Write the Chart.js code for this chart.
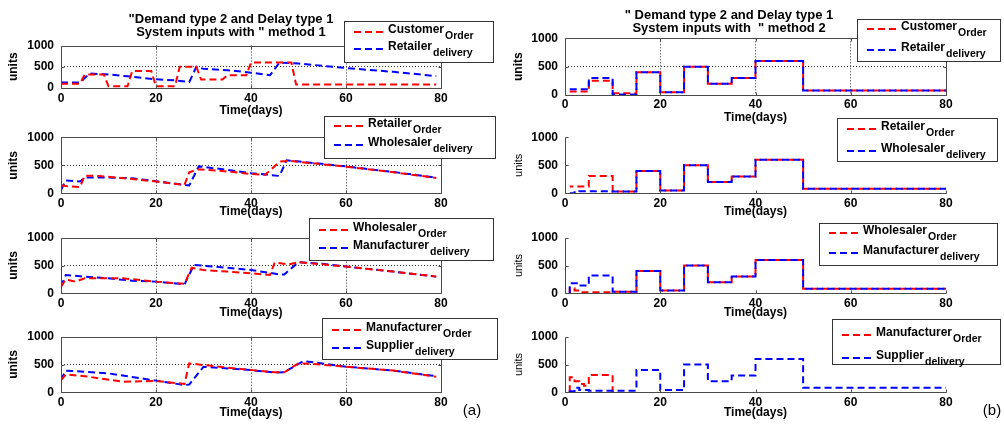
<!DOCTYPE html>
<html>
<head>
<meta charset="utf-8">
<script src="https://cdn.jsdelivr.net/npm/chart.js@4.4.1/dist/chart.umd.min.js"></script>
<style>
html, body { margin: 0; padding: 0; background: #fff; }
#wrap { position: relative; width: 1004px; height: 426px; overflow: hidden; }
#wrap canvas { position: absolute; left: 0; top: 0; }
</style>
</head>
<body>
<div id="wrap"></div>
<script>
// ---- data: [day, units] ----
// method 1 (left column)
const customerOrder1 = [[0,100],[4,100],[5,320],[9,320],[10,40],[14,40],[15,400],[19,400],[20,40],[24,40],[25,500],[28.5,500],[29.5,200],[34,200],[35,300],[39,300],[40,600],[48.5,600],[49.5,80],[79,80]];
const retailerDelivery1 = [[0,130],[4,130],[6,340],[10,320],[14,275],[20,205],[24,180],[27,140],[28.5,500],[30,450],[35,420],[40,360],[44,300],[46,600],[50,575],[60,470],[70,380],[79,280]];
const retailerOrder1 = [[0,140],[1,130],[4,110],[5,315],[8,310],[15,255],[20,210],[26,150],[27,375],[29,430],[35,390],[40,345],[43,330],[46,565],[48,580],[60,475],[70,375],[79,275]];
const wholesalerDelivery1 = [[0,60],[1,230],[4,210],[5,280],[10,280],[15,270],[20,215],[27,140],[29,480],[35,420],[40,360],[46,310],[47.5,590],[60,480],[70,380],[79,280]];
const wholesalerOrder1 = [[0,120],[1,250],[3,210],[5,270],[13,270],[20,210],[26,170],[27.5,460],[30,420],[35,390],[40,360],[44,330],[45,555],[48,520],[50,560],[60,480],[70,390],[79,300]];
const manufacturerDelivery1 = [[0,120],[1,330],[5,300],[10,270],[15,225],[20,210],[26,160],[28,510],[35,460],[40,420],[46,340],[47,340],[50,560],[55,530],[60,480],[70,390],[79,300]];
const manufacturerOrder1 = [[0,220],[1,320],[5,290],[13,190],[20,205],[26,150],[27,520],[30,490],[40,400],[45,360],[47,360],[50,520],[53,510],[60,460],[70,390],[79,280]];
const supplierDelivery1 = [[0,220],[1,390],[10,340],[20,210],[26,130],[27,140],[30,460],[40,400],[45,355],[47,360],[51,560],[55,520],[60,460],[70,390],[79,290]];

// method 2 (right column): [step start day, units], held until the next point
const customerOrder2 = [[1,60],[5,250],[10,30],[15,400],[20,50],[25,500],[30,200],[35,300],[40,600],[50,80],[80,80]];
const retailerDelivery2 = [[1,100],[5,300],[10,10],[15,400],[20,50],[25,500],[30,200],[35,300],[40,600],[50,80],[80,80]];
const retailerOrder2 = [[1,120],[5,310],[10,30],[15,400],[20,50],[25,500],[30,200],[35,300],[40,600],[50,80],[80,80]];
const wholesalerDelivery2 = [[1,0],[2,20],[3,35],[10,30],[15,400],[20,50],[25,500],[30,200],[35,300],[40,600],[50,80],[80,80]];
const wholesalerOrder2 = [[1,0],[1,90],[2,50],[3,20],[10,30],[15,400],[20,50],[25,500],[30,200],[35,300],[40,600],[50,80],[80,80]];
const manufacturerDelivery2 = [[1,0],[1,180],[3,140],[5,320],[10,30],[15,400],[20,50],[25,500],[30,200],[35,300],[40,600],[50,80],[80,80]];
const manufacturerOrder2 = [[1,0],[1,270],[2,200],[3,150],[4,120],[5,310],[10,0]];
const supplierDelivery2 = [[1,0],[1,20],[2,80],[3,40],[5,30],[15,400],[20,40],[25,500],[30,200],[35,300],[40,600],[50,80],[80,80]];

const xTicks = [0, 20, 40, 60, 80];
const yTicks = [0, 500, 1000];
const titleLeft = ['"Demand type 2 and Delay type 1', 'System inputs with " method 1'];
const titleRight = ['" Demand type 2 and Delay type 1', 'System inputs with  " method 2'];

const W = 1004, H = 426;
const FONT = '"Liberation Sans", Arial, Helvetica, sans-serif';
const RED = '#ff0000', BLUE = '#0000ff';
const DASH = [7, 4];

const panels = [
  { series: [customerOrder1, retailerDelivery1], names: ['Customer', 'Retailer'], subs: ['Order', 'delivery'],
    step: false, boxed: true, area: {l: 61, r: 441, t: 45.5, b: 88}, xt: 111, yt: 14, unitsBold: true, tp: 3,
    legend: {x: 344, y: 21, w: 149, h: 41, rows: [11, 28]},
    notes: [{lines: titleLeft, x: 231, y: 19}] },
  { series: [retailerOrder1, wholesalerDelivery1], names: ['Retailer', 'Wholesaler'], subs: ['Order', 'delivery'],
    step: false, boxed: true, area: {l: 61, r: 441, t: 137.3, b: 193.3}, xt: 212, yt: 14, unitsBold: true, tp: 3,
    legend: {x: 324, y: 116, w: 171, h: 42, rows: [10, 29]} },
  { series: [wholesalerOrder1, manufacturerDelivery1], names: ['Wholesaler', 'Manufacturer'], subs: ['Order', 'delivery'],
    step: false, boxed: true, area: {l: 61, r: 441, t: 237.7, b: 293.3}, xt: 313, yt: 14, unitsBold: true, tp: 3,
    legend: {x: 309, y: 218, w: 184, h: 42, rows: [12, 30]} },
  { series: [manufacturerOrder1, supplierDelivery1], names: ['Manufacturer', 'Supplier'], subs: ['Order', 'delivery'],
    step: false, boxed: true, area: {l: 61, r: 441, t: 336.7, b: 392.3}, xt: 413, yt: 14, unitsBold: true, tp: 3,
    legend: {x: 322, y: 318, w: 175, h: 41, rows: [12, 30]},
    tag: {text: '(a)', x: 472, y: 411} },
  { series: [customerOrder2, retailerDelivery2], names: ['Customer', 'Retailer'], subs: ['Order', 'delivery'],
    step: true, boxed: true, area: {l: 565, r: 946, t: 38.3, b: 95}, xt: 118, yt: 519, unitsBold: true, tp: 2,
    legend: {x: 857, y: 19, w: 143, h: 42, rows: [10, 31]},
    notes: [{lines: titleRight, x: 729, y: 15}] },
  { series: [retailerOrder2, wholesalerDelivery2], names: ['Retailer', 'Wholesaler'], subs: ['Order', 'delivery'],
    step: true, boxed: false, area: {l: 565, r: 946, t: 137.3, b: 193.3}, xt: 212, yt: 519, unitsBold: false, tp: 3,
    legend: {x: 837, y: 118, w: 160, h: 43, rows: [11, 33]} },
  { series: [wholesalerOrder2, manufacturerDelivery2], names: ['Wholesaler', 'Manufacturer'], subs: ['Order', 'delivery'],
    step: true, boxed: false, area: {l: 565, r: 946, t: 237.7, b: 293.3}, xt: 313, yt: 519, unitsBold: false, tp: 3,
    legend: {x: 819, y: 223, w: 178, h: 42, rows: [10, 30]} },
  { series: [manufacturerOrder2, supplierDelivery2], names: ['Manufacturer', 'Supplier'], subs: ['Order', 'delivery'],
    step: true, boxed: false, area: {l: 565, r: 946, t: 336.7, b: 392.3}, xt: 413, yt: 519, unitsBold: false, tp: 3,
    legend: {x: 832, y: 319, w: 168, h: 45, rows: [16, 39]},
    tag: {text: '(b)', x: 992, y: 411} }
];

// pixel length of a stepped path until it reaches day `upto`, so the red dashes
// can be phased into the gaps of the blue dashes where both series coincide
function stepLen(s, p, upto) {
  const kx = (p.area.r - p.area.l) / 80, ky = (p.area.b - p.area.t) / 1000;
  let len = 0;
  for (let i = 1; i < s.length; i++) {
    len += Math.abs(s[i][0] - s[i - 1][0]) * kx + Math.abs(s[i][1] - s[i - 1][1]) * ky;
    if (s[i][0] === upto) return len;
  }
  return null;
}

function drawDecor(chart, p) {
  const ctx = chart.ctx, a = chart.chartArea;
  const xs = chart.scales.x, ys = chart.scales.y;
  const L = Math.round(a.left) + 0.5, R = Math.round(a.right) + 0.5;
  const T = Math.round(a.top) + 0.5, B = Math.round(a.bottom) + 0.5;
  ctx.save();
  ctx.strokeStyle = '#4a4a4a';
  ctx.lineWidth = 1;
  ctx.setLineDash([]);
  ctx.beginPath();
  if (p.boxed) {
    ctx.rect(L, T, R - L, B - T);
  } else {
    ctx.moveTo(L, T); ctx.lineTo(L, B); ctx.lineTo(R, B);
  }
  // inward tick marks
  xTicks.forEach(v => {
    const x = Math.round(xs.getPixelForValue(v)) + 0.5;
    ctx.moveTo(x, B); ctx.lineTo(x, B - 3);
    if (p.boxed) { ctx.moveTo(x, T); ctx.lineTo(x, T + 3); }
  });
  yTicks.forEach(v => {
    const y = Math.round(ys.getPixelForValue(v)) + 0.5;
    ctx.moveTo(L, y); ctx.lineTo(L + 3, y);
    if (p.boxed) { ctx.moveTo(R, y); ctx.lineTo(R - 3, y); }
  });
  ctx.stroke();

  // legend with subscripts
  const lg = p.legend;
  ctx.fillStyle = '#fff';
  ctx.fillRect(lg.x, lg.y, lg.w, lg.h);
  ctx.strokeStyle = '#333';
  ctx.strokeRect(lg.x + 0.5, lg.y + 0.5, lg.w, lg.h);
  [RED, BLUE].forEach((col, i) => {
    const sy = lg.y + lg.rows[i];
    ctx.strokeStyle = col;
    ctx.lineWidth = 2;
    ctx.setLineDash(DASH);
    ctx.beginPath();
    ctx.moveTo(lg.x + 10, sy); ctx.lineTo(lg.x + 41, sy);
    ctx.stroke();
    ctx.setLineDash([]);
    ctx.fillStyle = '#000';
    ctx.textAlign = 'left';
    ctx.textBaseline = 'middle';
    ctx.font = 'bold 12px ' + FONT;
    ctx.fillText(p.names[i], lg.x + 44, sy - 2.5);
    const w = ctx.measureText(p.names[i]).width;
    ctx.font = 'bold 10.5px ' + FONT;
    ctx.fillText(p.subs[i], lg.x + 45 + w, sy + 4.5);
  });

  if (p.notes) {
    p.notes.forEach(n => {
      ctx.fillStyle = '#000';
      ctx.textAlign = 'center';
      ctx.textBaseline = 'middle';
      ctx.font = 'bold 13px ' + FONT;
      n.lines.forEach((t, k) => ctx.fillText(t, n.x, n.y + k * 13.5));
    });
  }
  if (p.tag) {
    ctx.fillStyle = '#000';
    ctx.textAlign = 'center';
    ctx.textBaseline = 'middle';
    ctx.font = '15px ' + FONT;
    ctx.fillText(p.tag.text, p.tag.x, p.tag.y);
  }
  ctx.restore();
}

const wrap = document.getElementById('wrap');

panels.forEach((p, idx) => {
  const cv = document.createElement('canvas');
  cv.width = W; cv.height = H;
  wrap.appendChild(cv);

  const unitsSize = p.unitsBold ? 12 : 11;
  const padL = p.yt - unitsSize * 1.2 / 2;
  const xlh = 12 * 1.2;
  const padB = H - p.xt - xlh / 2;
  const hx = p.xt + xlh / 2 - p.area.b;
  const yw = p.area.l - padL;
  const gridOn = p.boxed;

  let redOffset = 0;
  if (p.step) {
    const lr = stepLen(p.series[0], p, 15), lb = stepLen(p.series[1], p, 15);
    if (lr !== null && lb !== null) redOffset = lb - lr - 5.5;
  }

  const datasets = p.series.map((s, i) => ({
    data: s.map(d => ({x: d[0], y: d[1]})),
    borderColor: i === 0 ? RED : BLUE,
    borderWidth: 2,
    borderDash: DASH,
    borderDashOffset: i === 0 ? redOffset : 0,
    pointRadius: 0,
    fill: false,
    tension: 0,
    stepped: p.step ? 'before' : false,
    order: p.step ? (i === 0 ? 1 : 0) : i
  }));

  new Chart(cv, {
    type: 'line',
    data: { datasets },
    options: {
      responsive: false,
      animation: false,
      events: [],
      layout: { padding: { left: padL, right: W - p.area.r, top: p.area.t, bottom: padB } },
      plugins: { legend: { display: false }, tooltip: { enabled: false } },
      scales: {
        x: {
          type: 'linear', min: 0, max: 80,
          ticks: { stepSize: 20, autoSkip: false, maxRotation: 0, padding: p.tp, color: '#000',
                   font: { family: FONT, size: 12, weight: 'bold' }, callback: v => String(v) },
          grid: { drawTicks: false, lineWidth: 1,
                  color: c => (gridOn && c.tick && c.tick.value > 0 && c.tick.value < 80) ? '#333' : 'rgba(0,0,0,0)' },
          border: { display: false, dash: [1, 2] },
          title: { display: true, text: 'Time(days)', color: '#000', padding: 0,
                   font: { family: FONT, size: 12, weight: 'bold' } },
          afterFit: s => { s.height = hx; }
        },
        y: {
          min: 0, max: 1000,
          ticks: { stepSize: 500, padding: 7, color: '#000',
                   font: { family: FONT, size: 12, weight: 'bold' }, callback: v => String(v) },
          grid: { drawTicks: false, lineWidth: 1,
                  color: c => (gridOn && c.tick && c.tick.value === 500) ? '#333' : 'rgba(0,0,0,0)' },
          border: { display: false, dash: [1, 2] },
          title: { display: true, text: 'units', color: '#000', padding: 0,
                   font: { family: FONT, size: unitsSize, weight: p.unitsBold ? 'bold' : 'normal' } },
          afterFit: s => { s.width = yw; }
        }
      }
    },
    plugins: [{ id: 'decor' + idx, afterDraw: chart => drawDecor(chart, p) }]
  });
});
</script>
</body>
</html>
